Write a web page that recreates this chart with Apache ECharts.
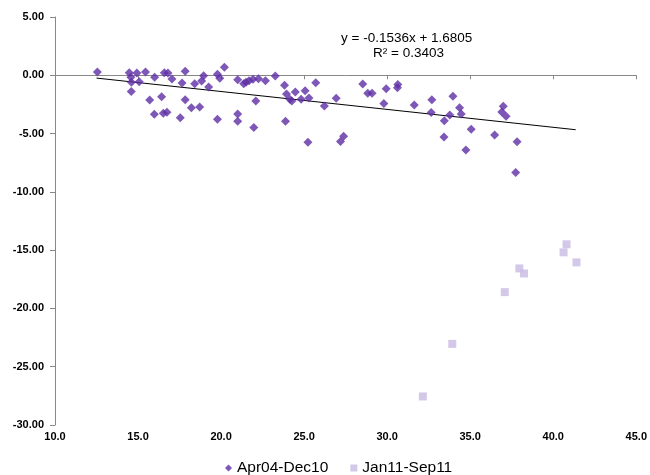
<!DOCTYPE html>
<html><head><meta charset="utf-8">
<script src="https://cdn.jsdelivr.net/npm/echarts@6/dist/echarts.min.js"></script>
<style>html,body{margin:0;padding:0;background:#fff}#c{width:650px;height:475px}</style>
</head><body><div id="c"></div>
<script>
const seriesNames = ['Apr04-Dec10', 'Jan11-Sep11'];
const xTicks = [10, 15, 20, 25, 30, 35, 40, 45];
const yTicks = [5, 0, -5, -10, -15, -20, -25, -30];
const s1x = [12.55,14.47,14.57,14.6,14.59,14.93,15.07,15.45,15.7,16.0,15.98,16.42,16.58,16.8,17.04,16.52,16.74,17.84,17.65,17.84,17.54,18.21,18.71,18.41,18.83,18.95,19.25,19.78,19.92,20.2,19.78,21.0,21.0,21.0,21.36,21.5,21.68,21.92,22.25,22.09,21.97,22.67,23.26,23.82,23.94,24.14,24.26,24.47,24.82,25.06,25.29,25.7,23.88,25.23,26.22,26.93,27.19,27.38,28.53,28.83,29.09,29.8,29.94,30.64,30.62,31.63,32.69,32.65,33.44,33.42,33.77,33.96,34.36,34.46,35.06,34.74,36.47,36.99,36.9,37.16,37.82,37.74];
const s1y = [0.28,0.22,-0.17,-0.6,-1.4,0.2,-0.55,0.28,-2.12,-0.17,-3.35,-1.84,0.22,0.2,-0.32,-3.26,-3.18,0.34,-0.66,-2.09,-3.64,-2.78,-2.72,-0.72,-0.49,-0.03,-1.0,0.08,-0.26,0.69,-3.78,-0.38,-3.32,-3.95,-0.72,-0.6,-0.46,-0.34,-0.29,-2.2,-4.47,-0.46,-0.06,-0.86,-1.6,-2.06,-2.2,-1.43,-2.06,-1.32,-1.95,-0.63,-3.95,-5.75,-2.64,-1.98,-5.67,-5.24,-0.75,-1.55,-1.55,-2.43,-1.15,-0.8,-1.06,-2.55,-2.09,-3.2,-3.9,-5.3,-3.4,-1.8,-2.78,-3.32,-4.64,-6.41,-5.12,-2.66,-3.15,-3.52,-5.7,-8.33];
const s2x = [40.8,40.62,41.4,37.96,38.24,37.08,33.92,32.15];
const s2y = [-14.5,-15.19,-16.05,-16.57,-17.0,-18.6,-23.04,-27.55];
const trendX = [12.5, 41.35];
const trendY = [-0.24, -4.67];
const trendText = ['y = -0.1536x + 1.6805', 'R\u00b2 = 0.3403'];

const zip = (a, b) => a.map((v, i) => [v, b[i]]);
const chart = echarts.init(document.getElementById('c'));
const lblFont = {fontFamily: 'Liberation Sans, Arial', fontWeight: 'bold', fontSize: 11, color: '#000'};
chart.setOption({
  animation: false,
  grid: {left: 55, right: 13, top: 17, bottom: 50},
  legend: {
    data: [{name: seriesNames[0], icon: 'diamond'}, {name: seriesNames[1], icon: 'rect'}],
    top: 455, left: 220, itemWidth: 7, itemHeight: 7, itemGap: 22,
    textStyle: {fontFamily: 'Liberation Sans, Arial', fontSize: 15.5, color: '#000'}
  },
  xAxis: [
    {type: 'value', min: xTicks[0], max: xTicks[xTicks.length-1], interval: 5, position: 'bottom',
     axisLine: {show: false, onZero: false}, axisTick: {show: false}, splitLine: {show: false},
     axisLabel: Object.assign({formatter: v => v.toFixed(1), margin: 6}, lblFont)},
    {type: 'value', min: xTicks[0], max: xTicks[xTicks.length-1], interval: 5, position: 'bottom',
     axisLine: {show: true, onZero: true, lineStyle: {color: '#888', width: 1}},
     axisTick: {show: true, length: 4, lineStyle: {color: '#888'}},
     axisLabel: {show: false}, splitLine: {show: false}}
  ],
  yAxis: {type: 'value', min: yTicks[yTicks.length-1], max: yTicks[0], interval: 5,
    axisLine: {show: true, onZero: false, lineStyle: {color: '#888', width: 1}},
    axisTick: {show: true, length: 5, lineStyle: {color: '#888'}},
    splitLine: {show: false},
    axisLabel: Object.assign({formatter: v => v.toFixed(2), margin: 11}, lblFont)},
  graphic: [
    {type: 'text', left: 341, top: 31, style: {text: trendText[0], font: '13.5px "Liberation Sans", Arial', fill: '#000'}},
    {type: 'text', left: 373, top: 46, style: {text: trendText[1], font: '13.5px "Liberation Sans", Arial', fill: '#000'}}
  ],
  series: [
    {name: 'trend', type: 'line', data: zip(trendX, trendY), showSymbol: false, silent: true,
     lineStyle: {color: '#000', width: 1}, z: 1},
    {name: seriesNames[0], type: 'scatter', symbol: 'diamond', symbolSize: 9,
     itemStyle: {color: '#5E2EA4'}, data: zip(s1x, s1y), z: 3},
    {name: seriesNames[1], type: 'scatter', symbol: 'rect', symbolSize: 8,
     itemStyle: {color: '#C9BAE4'}, data: zip(s2x, s2y), z: 3}
  ]
});
</script></body></html>
